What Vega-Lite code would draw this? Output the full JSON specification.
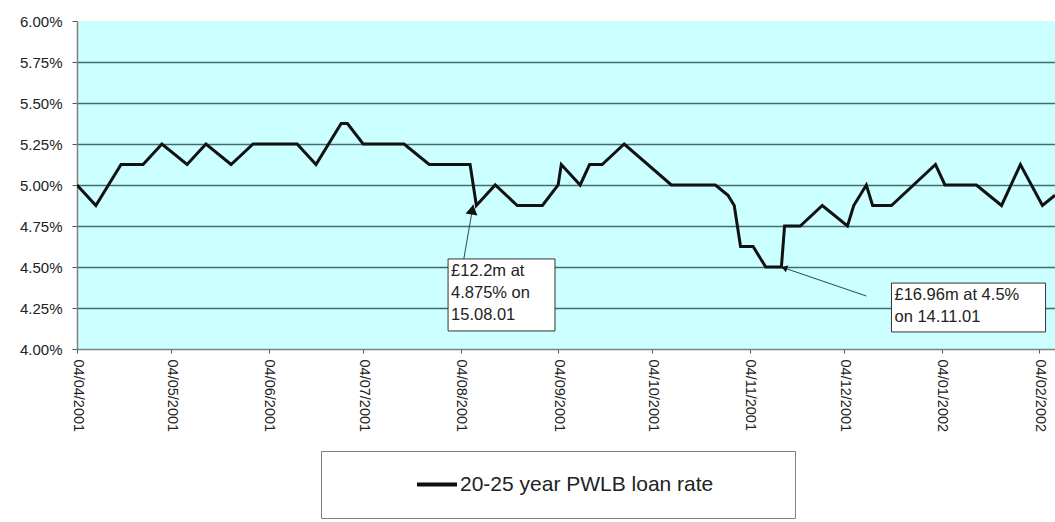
{
  "$schema": "https://vega.github.io/schema/vega-lite/v6.json",
  "width": 978,
  "height": 328,
  "autosize": {"type": "none"},
  "padding": {"left": 77, "top": 21, "right": 0, "bottom": 173},
  "background": "white",
  "view": {"fill": "#ccffff", "stroke": null},
  "config": {"font": "Liberation Sans"},
  "datasets": {
    "rates": [
      {"date": "2001-04-04", "rate": 5.0, "series": "20-25 year PWLB loan rate"},
      {"date": "2001-04-10", "rate": 4.875, "series": "20-25 year PWLB loan rate"},
      {"date": "2001-04-18", "rate": 5.125, "series": "20-25 year PWLB loan rate"},
      {"date": "2001-04-25", "rate": 5.125, "series": "20-25 year PWLB loan rate"},
      {"date": "2001-05-01", "rate": 5.25, "series": "20-25 year PWLB loan rate"},
      {"date": "2001-05-09", "rate": 5.125, "series": "20-25 year PWLB loan rate"},
      {"date": "2001-05-15", "rate": 5.25, "series": "20-25 year PWLB loan rate"},
      {"date": "2001-05-23", "rate": 5.125, "series": "20-25 year PWLB loan rate"},
      {"date": "2001-05-30", "rate": 5.25, "series": "20-25 year PWLB loan rate"},
      {"date": "2001-06-13", "rate": 5.25, "series": "20-25 year PWLB loan rate"},
      {"date": "2001-06-19", "rate": 5.125, "series": "20-25 year PWLB loan rate"},
      {"date": "2001-06-27", "rate": 5.375, "series": "20-25 year PWLB loan rate"},
      {"date": "2001-06-29", "rate": 5.375, "series": "20-25 year PWLB loan rate"},
      {"date": "2001-07-04", "rate": 5.25, "series": "20-25 year PWLB loan rate"},
      {"date": "2001-07-17", "rate": 5.25, "series": "20-25 year PWLB loan rate"},
      {"date": "2001-07-25", "rate": 5.125, "series": "20-25 year PWLB loan rate"},
      {"date": "2001-08-07", "rate": 5.125, "series": "20-25 year PWLB loan rate"},
      {"date": "2001-08-09", "rate": 4.875, "series": "20-25 year PWLB loan rate"},
      {"date": "2001-08-15", "rate": 5.0, "series": "20-25 year PWLB loan rate"},
      {"date": "2001-08-22", "rate": 4.875, "series": "20-25 year PWLB loan rate"},
      {"date": "2001-08-30", "rate": 4.875, "series": "20-25 year PWLB loan rate"},
      {"date": "2001-09-04", "rate": 5.0, "series": "20-25 year PWLB loan rate"},
      {"date": "2001-09-05", "rate": 5.125, "series": "20-25 year PWLB loan rate"},
      {"date": "2001-09-11", "rate": 5.0, "series": "20-25 year PWLB loan rate"},
      {"date": "2001-09-14", "rate": 5.125, "series": "20-25 year PWLB loan rate"},
      {"date": "2001-09-18", "rate": 5.125, "series": "20-25 year PWLB loan rate"},
      {"date": "2001-09-25", "rate": 5.25, "series": "20-25 year PWLB loan rate"},
      {"date": "2001-10-10", "rate": 5.0, "series": "20-25 year PWLB loan rate"},
      {"date": "2001-10-24", "rate": 5.0, "series": "20-25 year PWLB loan rate"},
      {"date": "2001-10-28", "rate": 4.9375, "series": "20-25 year PWLB loan rate"},
      {"date": "2001-10-30", "rate": 4.875, "series": "20-25 year PWLB loan rate"},
      {"date": "2001-11-01", "rate": 4.625, "series": "20-25 year PWLB loan rate"},
      {"date": "2001-11-05", "rate": 4.625, "series": "20-25 year PWLB loan rate"},
      {"date": "2001-11-09", "rate": 4.5, "series": "20-25 year PWLB loan rate"},
      {"date": "2001-11-14", "rate": 4.5, "series": "20-25 year PWLB loan rate"},
      {"date": "2001-11-15", "rate": 4.75, "series": "20-25 year PWLB loan rate"},
      {"date": "2001-11-20", "rate": 4.75, "series": "20-25 year PWLB loan rate"},
      {"date": "2001-11-27", "rate": 4.875, "series": "20-25 year PWLB loan rate"},
      {"date": "2001-12-05", "rate": 4.75, "series": "20-25 year PWLB loan rate"},
      {"date": "2001-12-07", "rate": 4.875, "series": "20-25 year PWLB loan rate"},
      {"date": "2001-12-11", "rate": 5.0, "series": "20-25 year PWLB loan rate"},
      {"date": "2001-12-13", "rate": 4.875, "series": "20-25 year PWLB loan rate"},
      {"date": "2001-12-19", "rate": 4.875, "series": "20-25 year PWLB loan rate"},
      {"date": "2002-01-02", "rate": 5.125, "series": "20-25 year PWLB loan rate"},
      {"date": "2002-01-05", "rate": 5.0, "series": "20-25 year PWLB loan rate"},
      {"date": "2002-01-15", "rate": 5.0, "series": "20-25 year PWLB loan rate"},
      {"date": "2002-01-23", "rate": 4.875, "series": "20-25 year PWLB loan rate"},
      {"date": "2002-01-29", "rate": 5.125, "series": "20-25 year PWLB loan rate"},
      {"date": "2002-02-05", "rate": 4.875, "series": "20-25 year PWLB loan rate"},
      {"date": "2002-02-09", "rate": 4.9375, "series": "20-25 year PWLB loan rate"}
    ],
    "notes": [
      {"id": 1, "x1": "2001-07-31", "x2": "2001-09-03", "top": 4.549, "bottom": 4.11, "label": "£12.2m at\n4.875% on\n15.08.01", "tail": "2001-08-05", "tailRate": 4.549, "head": "2001-08-08", "headRate": 4.88},
      {"id": 2, "x1": "2001-12-19", "x2": "2002-02-06", "top": 4.402, "bottom": 4.104, "label": "£16.96m at 4.5%\non 14.11.01", "tail": "2001-12-11", "tailRate": 4.323, "head": "2001-11-14", "headRate": 4.5}
    ]
  },
  "layer": [
    {
      "data": {"name": "rates"},
      "mark": {"type": "line", "strokeWidth": 3, "clip": true},
      "encoding": {
        "x": {
          "field": "date", "type": "temporal", "title": null,
          "scale": {"type": "utc", "domain": [{"year": 2001, "month": 4, "date": 4, "utc": true}, {"year": 2002, "month": 2, "date": 9, "utc": true}]},
          "axis": {
            "values": [
              {"year": 2001, "month": 4, "date": 4, "utc": true},
              {"year": 2001, "month": 5, "date": 4, "utc": true},
              {"year": 2001, "month": 6, "date": 4, "utc": true},
              {"year": 2001, "month": 7, "date": 4, "utc": true},
              {"year": 2001, "month": 8, "date": 4, "utc": true},
              {"year": 2001, "month": 9, "date": 4, "utc": true},
              {"year": 2001, "month": 10, "date": 4, "utc": true},
              {"year": 2001, "month": 11, "date": 4, "utc": true},
              {"year": 2001, "month": 12, "date": 4, "utc": true},
              {"year": 2002, "month": 1, "date": 4, "utc": true},
              {"year": 2002, "month": 2, "date": 4, "utc": true}
            ],
            "format": "%d/%m/%Y",
            "labelAngle": 90,
            "labelFontSize": 14.5,
            "labelColor": "#222",
            "labelPadding": 6,
            "tickSize": 4,
            "tickColor": "#555",
            "domainColor": "#808080",
            "domainWidth": 1.5,
            "grid": false,
            "labelOverlap": false,
            "labelFlush": false
          }
        },
        "y": {
          "field": "rate", "type": "quantitative", "title": null,
          "scale": {"domain": [4, 6], "nice": false, "zero": false},
          "axis": {
            "values": [4, 4.25, 4.5, 4.75, 5, 5.25, 5.5, 5.75, 6],
            "labelExpr": "format(datum.value, '.2f') + '%'",
            "labelFontSize": 15,
            "labelColor": "#222",
            "labelPadding": 10,
            "tickSize": 5,
            "tickColor": "#555",
            "domainColor": "#808080",
            "domainWidth": 1.5,
            "grid": true,
            "gridWidth": 1.5,
            "gridColor": {"condition": {"test": "datum.value <= 4 || datum.value >= 6", "value": "transparent"}, "value": "#3f6e6e"},
            "labelFlush": false
          }
        },
        "color": {
          "field": "series", "type": "nominal",
          "scale": {"range": ["#111111"]},
          "legend": {
            "title": null,
            "orient": "none",
            "legendX": 244,
            "legendY": 430,
            "padding": 23,
            "strokeColor": "#808080",
            "fillColor": "white",
            "symbolType": "M-4,-0.4H4V0.4H-4Z",
            "symbolSize": 100,
            "symbolStrokeWidth": 0,
            "symbolFillColor": "#111111",
            "symbolOffset": 82.5,
            "labelOffset": 12.5,
            "labelFontSize": 21,
            "labelColor": "#222",
            "labelLimit": 1000,
            "labelExpr": "datum.label + '\u00a0\u00a0\u00a0\u00a0\u00a0\u00a0\u00a0\u00a0\u00a0\u00a0\u200b'"
          }
        }
      }
    },
    {
      "data": {"name": "notes"},
      "mark": {"type": "rule", "color": "#2a4a4a", "strokeWidth": 1},
      "encoding": {
        "x": {"field": "tail", "type": "temporal", "title": null},
        "x2": {"field": "head"},
        "y": {"field": "tailRate", "type": "quantitative", "title": null},
        "y2": {"field": "headRate"}
      }
    },
    {
      "data": {"name": "notes"},
      "mark": {"type": "rect", "fill": "white", "stroke": "#333333", "strokeWidth": 1},
      "encoding": {
        "x": {"field": "x1", "type": "temporal", "title": null},
        "x2": {"field": "x2"},
        "y": {"field": "top", "type": "quantitative", "title": null},
        "y2": {"field": "bottom"}
      }
    },
    {
      "data": {"name": "notes"},
      "mark": {"type": "text", "align": "left", "baseline": "top", "dx": 3, "dy": 4, "fontSize": 16.5, "lineHeight": 22, "lineBreak": "\n", "color": "#222"},
      "encoding": {
        "x": {"field": "x1", "type": "temporal", "title": null},
        "y": {"field": "top", "type": "quantitative", "title": null},
        "text": {"field": "label", "type": "nominal"}
      }
    },
    {
      "data": {"name": "notes"},
      "transform": [{"filter": "datum.id == 1"}],
      "mark": {"type": "point", "shape": "M0,0L-0.6,1L0.6,1Z", "filled": true, "color": "#111111", "opacity": 1, "size": 400, "angle": 10},
      "encoding": {
        "x": {"field": "head", "type": "temporal", "title": null},
        "y": {"field": "headRate", "type": "quantitative", "title": null}
      }
    },
    {
      "data": {"name": "notes"},
      "transform": [{"filter": "datum.id == 2"}],
      "mark": {"type": "point", "shape": "M0,0L-0.6,1L0.6,1Z", "filled": true, "color": "#111111", "opacity": 1, "size": 144, "angle": -71},
      "encoding": {
        "x": {"field": "head", "type": "temporal", "title": null},
        "y": {"field": "headRate", "type": "quantitative", "title": null}
      }
    }
  ]
}
